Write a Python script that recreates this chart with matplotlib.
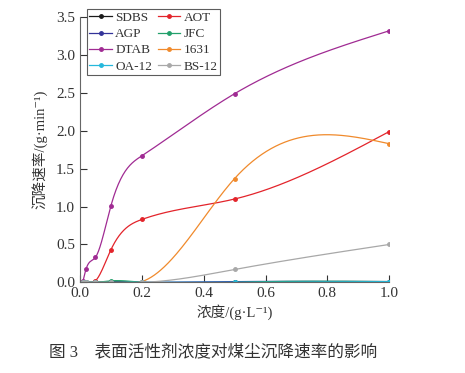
import numpy as np
import matplotlib
matplotlib.use('Agg')
import matplotlib.pyplot as plt
from matplotlib.lines import Line2D

plt.rcParams['font.family'] = ['Liberation Serif', 'Noto Sans CJK SC', 'DejaVu Serif']

# concentration (g/L)
conc = [0.01, 0.02, 0.05, 0.1, 0.2, 0.5, 1.0]

# settling rate (g/min) per surfactant
sdbs = [0.0, 0.0, 0.0, 0.01, 0.0, 0.0, 0.01]
aot = [0.01, 0.0, 0.02, 0.43, 0.83, 1.10, 1.99]
agp = [0.0, 0.0, 0.0, 0.0, 0.0, 0.01, 0.01]
jfc = [0.0, 0.0, 0.0, 0.02, 0.0, 0.0, 0.01]
dtab = [0.02, 0.18, 0.33, 1.01, 1.67, 2.49, 3.32]
s1631 = [0.0, 0.0, 0.0, 0.0, 0.01, 1.37, 1.83]
oa12 = [0.0, 0.0, 0.0, 0.0, 0.0, 0.0, 0.01]
bs12 = [0.0, 0.0, 0.0, 0.0, 0.0, 0.17, 0.50]

names = ['SDBS', 'AOT', 'AGP', 'JFC', 'DTAB', '1631', 'OA-12', 'BS-12']
series = [sdbs, aot, agp, jfc, dtab, s1631, oa12, bs12]
colors = ['#1a1a1a', '#e3242b', '#333399', '#22a06b', '#a02b93',
          '#f08a2c', '#25b8dc', '#a8a8a8']


def natural_spline(x, y, n=400):
    # natural cubic spline through the points, for the smooth line
    x = np.asarray(x, float)
    y = np.asarray(y, float)
    k = len(x)
    h = np.diff(x)
    A = np.zeros((k, k))
    b = np.zeros(k)
    A[0, 0] = A[-1, -1] = 1
    for i in range(1, k - 1):
        A[i, i - 1] = h[i - 1]
        A[i, i] = 2 * (h[i - 1] + h[i])
        A[i, i + 1] = h[i]
        b[i] = 3 * ((y[i + 1] - y[i]) / h[i] - (y[i] - y[i - 1]) / h[i - 1])
    c = np.linalg.solve(A, b)
    xs = np.linspace(x[0], x[-1], n)
    idx = np.clip(np.searchsorted(x, xs) - 1, 0, k - 2)
    dx = xs - x[idx]
    bb = (y[idx + 1] - y[idx]) / h[idx] - h[idx] * (2 * c[idx] + c[idx + 1]) / 3
    d = (c[idx + 1] - c[idx]) / (3 * h[idx])
    ys = y[idx] + bb * dx + c[idx] * dx ** 2 + d * dx ** 3
    return xs, ys


fig = plt.figure(figsize=(4.65, 3.73), dpi=100)
ax = fig.add_axes([0.172, 0.243, 0.665, 0.711])

handles = {}
for name, vals, col in zip(names, series, colors):
    xs, ys = natural_spline(conc, vals)
    ax.plot(xs, ys, color=col, lw=0.9)
    ax.plot(conc, vals, 'o', color=col, ms=2.5)
    handles[name] = Line2D([], [], color=col, lw=0.9, marker='o', ms=2.5)

ax.set_xlim(0, 1.0)
ax.set_ylim(0, 3.5)
ax.set_xticks(np.arange(0, 1.01, 0.2))
ax.set_yticks(np.arange(0, 3.51, 0.5))
ax.xaxis.set_major_formatter(plt.FormatStrFormatter('%.1f'))
ax.yaxis.set_major_formatter(plt.FormatStrFormatter('%.1f'))
ax.tick_params(direction='in', length=5, width=0.8, labelsize=11, colors='#333333')
for s in ['top', 'right']:
    ax.spines[s].set_visible(False)
for s in ['left', 'bottom']:
    ax.spines[s].set_color('#666666')

ax.set_xlabel('浓度/(g·L⁻¹)', fontsize=10.5, color='#333333', labelpad=3)
ax.set_ylabel('沉降速率/(g·min⁻¹)', fontsize=10.5, color='#333333', labelpad=6)

order = ['SDBS', 'AGP', 'DTAB', 'OA-12', 'AOT', 'JFC', '1631', 'BS-12']
leg = ax.legend([handles[n] for n in order], order, ncol=2, loc='upper left',
                bbox_to_anchor=(0.022, 1.03), fontsize=9.5, frameon=True,
                fancybox=False, edgecolor='#333333', handlelength=1.7,
                handletextpad=0.25, columnspacing=0.45, labelspacing=0.3,
                borderpad=0.2, borderaxespad=0)
leg.get_frame().set_linewidth(0.8)
for t in leg.get_texts():
    t.set_color('#333333')

fig.text(0.458, 0.055, '图 3    表面活性剂浓度对煤尘沉降速率的影响', ha='center',
         va='center', fontsize=12, color='#333333')

fig.savefig('out.png', dpi=100)
